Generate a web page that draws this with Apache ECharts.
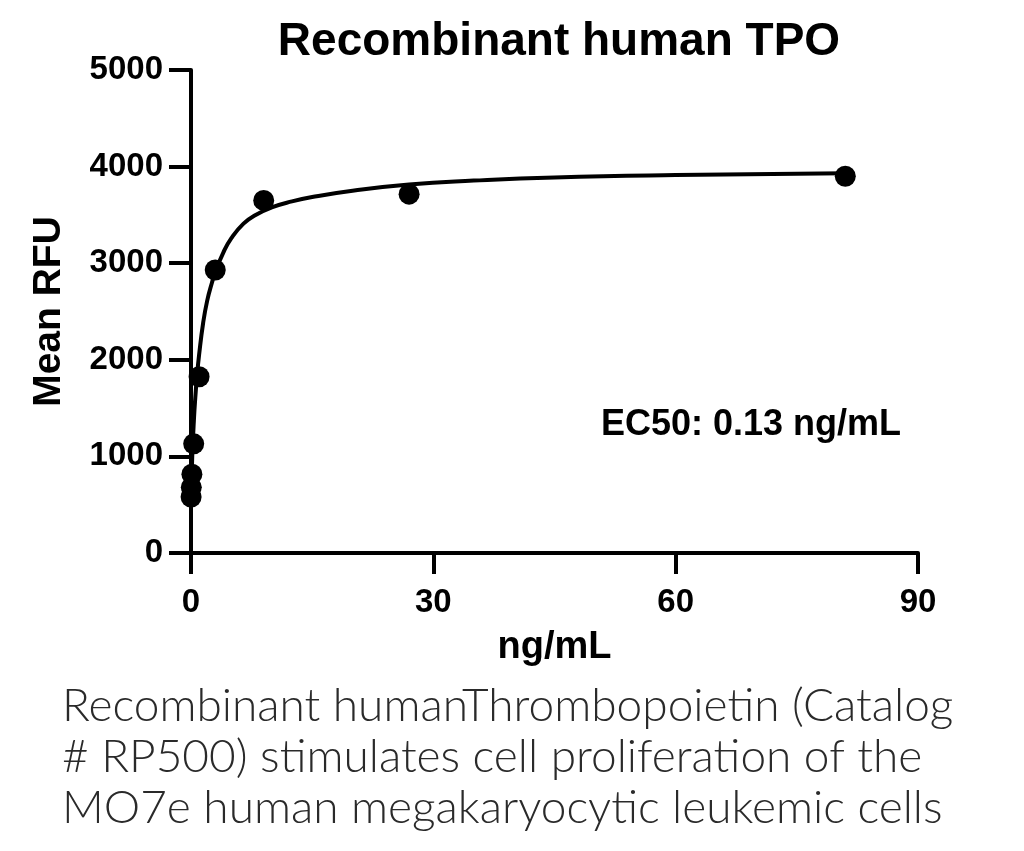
<!DOCTYPE html>
<html>
<head>
<meta charset="utf-8">
<script src="https://cdn.jsdelivr.net/npm/echarts@6/dist/echarts.min.js"></script>
<style>
  html, body { margin: 0; padding: 0; background: #fff; }
  #chart { width: 1024px; height: 851px; }
</style>
</head>
<body>
<div id="chart"></div>
<script>
// measured points (ng/mL, mean RFU)
const doseX = [81, 27, 9, 3, 1, 0.333, 0.111, 0.037, 0.0123];
const rfuY = [3900, 3715, 3650, 2930, 1825, 1130, 815, 680, 580];

// fitted curve
const curveX = [0.01, 0.04, 0.1, 0.2, 0.35, 0.5, 0.75, 1, 1.5, 2, 2.6, 3, 4, 5, 6.5, 8, 10, 12.5, 15, 20, 27, 35, 45, 60, 81];
const curveY = [580, 680, 850, 1100, 1360, 1570, 1840, 2050, 2380, 2610, 2800, 2905, 3110, 3260, 3410, 3500, 3578, 3640, 3685, 3750, 3815, 3855, 3888, 3912, 3930];

const xTicks = [0, 30, 60, 90];
const yTicks = [0, 1000, 2000, 3000, 4000, 5000];

const captionLines = [
  "Recombinant humanThrombopoietin (Catalog",
  "# RP500) stimulates cell proliferation of the",
  "MO7e human megakaryocytic leukemic cells"
];

const chart = echarts.init(document.getElementById("chart"));

const boldFont = "Liberation Sans, Arial, sans-serif";

chart.setOption({
  backgroundColor: "#fff",
  animation: false,
  title: {
    text: "Recombinant human TPO",
    left: 554,
    top: 14,
    textAlign: "center",
    textStyle: { fontFamily: boldFont, fontWeight: "bold", fontSize: 46, color: "#000" },
  },
  grid: { left: 191, right: 106, top: 70, bottom: 298 },
  xAxis: {
    type: "value",
    min: xTicks[0],
    max: xTicks[xTicks.length - 1],
    interval: 30,
    name: "ng/mL",
    nameLocation: "middle",
    nameGap: 76,
    nameTextStyle: { fontFamily: boldFont, fontWeight: "bold", fontSize: 38, color: "#000" },
    axisLine: { lineStyle: { color: "#000", width: 4 } },
    axisTick: { length: 21, lineStyle: { color: "#000", width: 4 } },
    axisLabel: { margin: 33, fontFamily: boldFont, fontWeight: "bold", fontSize: 33, color: "#000" },
    splitLine: { show: false },
  },
  yAxis: {
    type: "value",
    min: yTicks[0],
    max: yTicks[yTicks.length - 1],
    interval: 1000,
    name: "Mean RFU",
    nameLocation: "middle",
    nameGap: 122,
    nameTextStyle: { fontFamily: boldFont, fontWeight: "bold", fontSize: 39, color: "#000" },
    axisLine: { show: true, lineStyle: { color: "#000", width: 4 } },
    axisTick: { show: true, length: 22, lineStyle: { color: "#000", width: 4 } },
    axisLabel: {
      margin: 28,
      fontFamily: boldFont,
      fontWeight: "bold",
      fontSize: 33,
      color: "#000",
      formatter: (v) => String(v),
    },
    splitLine: { show: false },
  },
  series: [
    {
      type: "line",
      data: curveX.map((x, i) => [x, curveY[i]]),
      smooth: 0.5,
      showSymbol: false,
      lineStyle: { color: "#000", width: 4, cap: "round", join: "round" },
      z: 2,
    },
    {
      type: "scatter",
      data: doseX.map((x, i) => [x, rfuY[i]]),
      symbol: "circle",
      symbolSize: 21,
      itemStyle: { color: "#000", opacity: 1 },
      z: 3,
    },
  ],
  graphic: [
    {
      type: "text",
      left: 601,
      top: 407,
      style: { text: "EC50: 0.13 ng/mL", font: "bold 36px " + boldFont, fill: "#000" },
    },
  ].concat(captionLines.map((line, i) => ({
    type: "text",
    left: 62,
    top: 683 + i * 51,
    style: { text: line, font: "300 46px Lato, 'Open Sans', sans-serif", fill: "#2a2a2a" },
  }))),
});
</script>
</body>
</html>
